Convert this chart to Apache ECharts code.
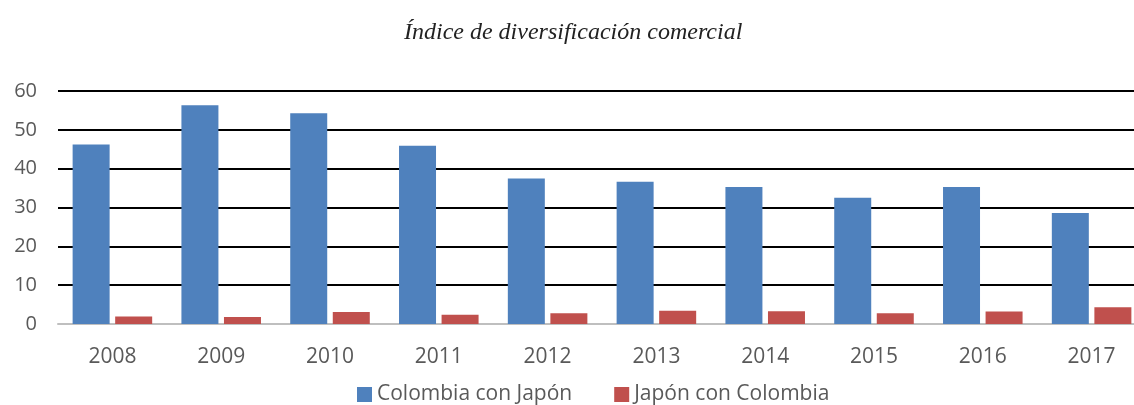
<!DOCTYPE html>
<html>
<head>
<meta charset="utf-8">
<script src="https://cdn.jsdelivr.net/npm/echarts@6/dist/echarts.min.js"></script>
<style>
  html, body { margin: 0; padding: 0; background: #fff; }
  #chart { width: 1134px; height: 405px; }
</style>
</head>
<body>
<div id="chart"></div>
<script>
const years = ['2008', '2009', '2010', '2011', '2012', '2013', '2014', '2015', '2016', '2017']
const colombiaConJapon = [46.2, 56.3, 54.3, 45.9, 37.5, 36.6, 35.3, 32.5, 35.3, 28.6]
const japonConColombia = [1.9, 1.8, 3.1, 2.4, 2.8, 3.4, 3.3, 2.8, 3.2, 4.3]
const yTicks = [0, 10, 20, 30, 40, 50, 60]

const chart = echarts.init(document.getElementById('chart'))

chart.setOption({
  animation: false,
  title: {
    text: 'Índice de diversificación comercial',
    left: 399,
    top: 16,
    textStyle: {
      fontFamily: 'Liberation Serif',
      fontStyle: 'italic',
      fontWeight: 'normal',
      fontSize: 24,
      color: '#222'
    }
  },
  legend: {
    top: 379,
    left: 352,
    itemWidth: 15,
    itemHeight: 15,
    itemGap: 42,
    icon: 'rect',
    textStyle: { fontFamily: 'Open Sans', fontSize: 21, color: '#595959' },
    data: ['Colombia con Japón', 'Japón con Colombia']
  },
  grid: { left: 58, top: 91, width: 1088, height: 233, outerBoundsMode: 'none', containLabel: false },
  xAxis: {
    type: 'category',
    data: years,
    axisLine: { lineStyle: { color: '#BFBFBF', width: 2 } },
    axisTick: { show: false },
    axisLabel: { fontFamily: 'Open Sans', fontSize: 21, color: '#595959', margin: 23 }
  },
  yAxis: {
    type: 'value',
    min: yTicks[0],
    max: yTicks[yTicks.length - 1],
    interval: 10,
    axisLine: { show: false },
    axisTick: { show: false },
    axisLabel: { fontFamily: 'Open Sans', fontSize: 20, color: '#595959', margin: 21 },
    splitLine: { lineStyle: { color: '#000', width: 2 } }
  },
  series: [
    {
      name: 'Colombia con Japón',
      type: 'bar',
      data: colombiaConJapon,
      barWidth: 37,
      barGap: '15%',
      itemStyle: { color: '#4F81BD' }
    },
    {
      name: 'Japón con Colombia',
      type: 'bar',
      data: japonConColombia,
      barWidth: 37,
      itemStyle: { color: '#C0504D' }
    }
  ]
})
</script>
</body>
</html>
